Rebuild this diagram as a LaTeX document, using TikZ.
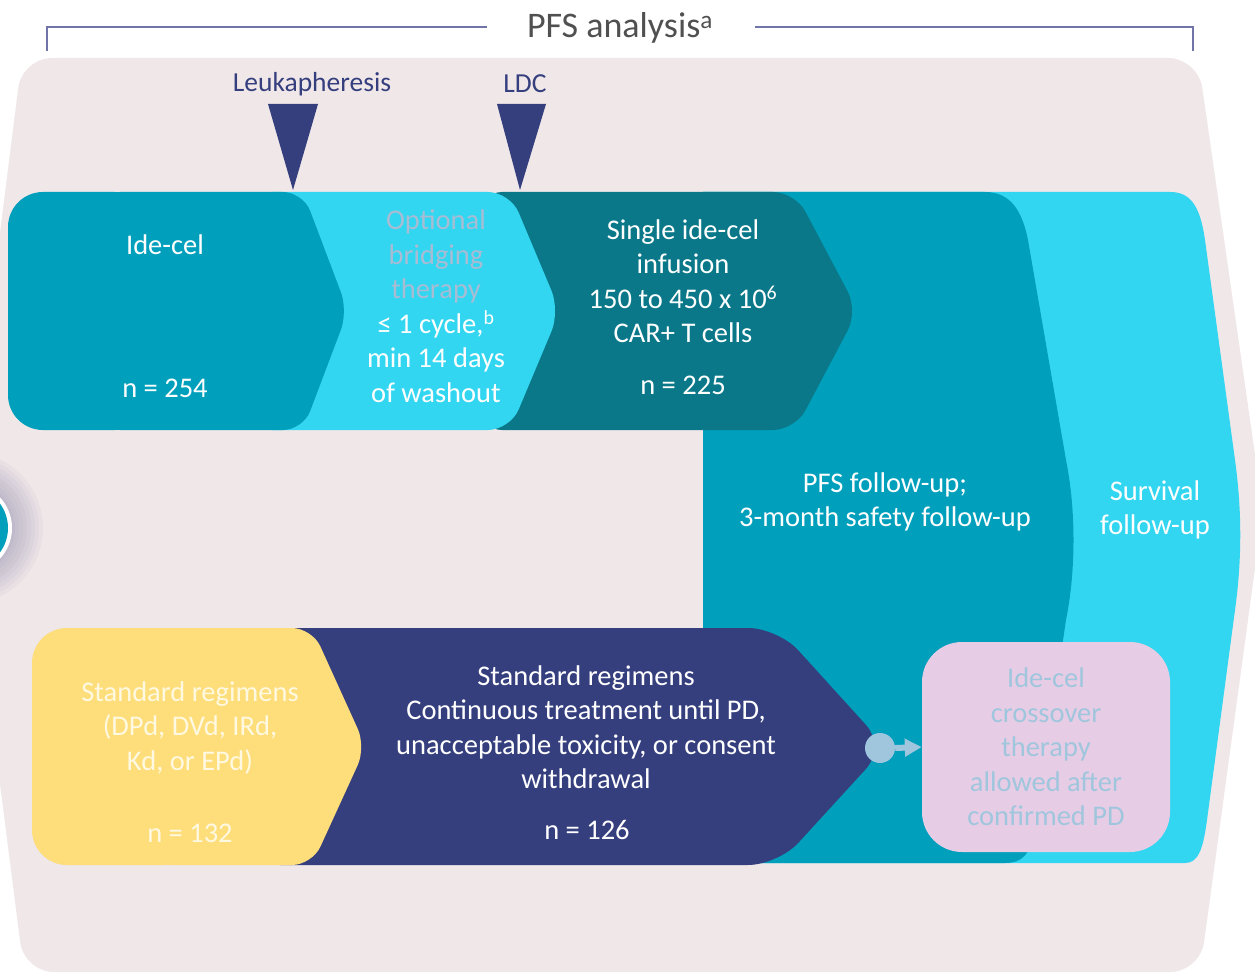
\documentclass[tikz,border=0pt]{standalone}
\usepackage{fontspec}
\setmainfont{Carlito}
\usetikzlibrary{arrows.meta}
\definecolor{bgpink}{RGB}{240,231,233}
\definecolor{teal1}{RGB}{0,159,188}
\definecolor{cyan1}{RGB}{51,214,240}
\definecolor{dteal}{RGB}{10,120,137}
\definecolor{navy}{RGB}{53,63,126}
\definecolor{yel}{RGB}{254,221,123}
\definecolor{pinkbox}{RGB}{230,205,229}
\definecolor{ltblue}{RGB}{160,198,221}
\definecolor{greytxt}{RGB}{168,188,212}
\definecolor{cream}{RGB}{255,249,225}
\definecolor{titlegrey}{RGB}{80,80,80}
\definecolor{brack}{RGB}{112,116,166}
\definecolor{glow}{RGB}{120,115,160}
\begin{document}
\begin{tikzpicture}[x=1pt,y=-1pt,
  body/.style={font=\fontsize{28.5}{34.5}\selectfont, align=center, text=white, inner sep=0pt},
  toplabel/.style={font=\fontsize{27.5}{30}\selectfont, text=navy, inner sep=0pt},
  bracketline/.style={brack, line width=1.5pt}]
\useasboundingbox (0,0) rectangle (1255,973);
\begin{scope}
\clip (0,0) rectangle (1255,973);
% background
\fill[bgpink, rounded corners=30] (-35,510) -- (22,58) -- (1198,58) -- (1263,510) -- (1200,972) -- (24,972) -- cycle;
% left circle with glow
\foreach \r in {76,72,...,48} \fill[glow, opacity=0.055] (-33,528) circle (\r);
\fill[white] (-33,528) circle (45);
\fill[teal1] (-33,528) circle (41);
% survival follow-up
\fill[cyan1] (703,192) -- (1170,192) .. controls (1190,192) and (1200,205) .. (1205,240) -- (1235,460) .. controls (1242,510) and (1242,560) .. (1235,610) -- (1207,820) .. controls (1203,850) and (1198,863) .. (1185,863) -- (703,863) -- cycle;
% PFS follow-up
\fill[teal1] (703,192) -- (985,192) .. controls (1010,192) and (1022,210) .. (1028,240) -- (1066,460) .. controls (1076,510) and (1076,570) .. (1066,620) -- (1035,830) .. controls (1030,855) and (1022,863) .. (1005,863) -- (703,863) -- cycle;
% infusion
\fill[dteal, rounded corners=22] (480,192) -- (795,192) -- (858,311) -- (795,430) -- (480,430) -- cycle;
% bridging
\fill[cyan1, rounded corners=22] (250,192) -- (510,192) -- (560,311) -- (510,430) -- (250,430) -- cycle;
% ide-cel
\fill[teal1, rounded corners=35] (8,192) rectangle (150,430);
\fill[teal1, rounded corners=20] (100,192) -- (303,192) -- (348,311) -- (303,430) -- (100,430) -- cycle;
% navy standard regimens
\fill[navy, rounded corners=30] (250,628) -- (778,628) -- (886,747) -- (778,865) -- (250,865) -- cycle;
% yellow
\fill[yel, rounded corners=35] (32,628) rectangle (200,865);
\fill[yel, rounded corners=20] (150,628) -- (312,628) -- (366,747) -- (312,865) -- (150,865) -- cycle;
\end{scope}
% markers
\fill[navy] (268,104) -- (318,104) -- (293,190) -- cycle;
\fill[navy] (497,104) -- (546,104) -- (520,190) -- cycle;
\node[toplabel] (leuk) at (312,84) {Leukapheresis};
\node[toplabel] (ldc) at (525,84) {LDC};
% title and bracket
\node[font=\fontsize{36}{40}\selectfont, text=titlegrey, inner sep=0pt] (title) at (620,28) {PFS analysis\textsuperscript{a}};
\draw[bracketline] (47,51) -- (47,27) -- (487,27);
\draw[bracketline] (755,27) -- (1193,27) -- (1193,51);
% texts
\node[body] (idecel) at (165,245) {Ide-cel};
\node[body] (n254) at (165,388) {n = 254};
\node[body] (bridge) at (436,306) {\textcolor{greytxt}{Optional}\\\textcolor{greytxt}{bridging}\\\textcolor{greytxt}{therapy}\\≤ 1 cycle,\textsuperscript{b}\\min 14 days\\of washout};
\node[body] (infuse) at (683,281) {Single ide-cel\\infusion\\150 to 450 x 10\textsuperscript{6}\\CAR+ T cells};
\node[body] (n225) at (683,385) {n = 225};
\node[body] (pfs) at (885,502) {PFS follow-up;\\3-month safety follow-up};
\node[body] (surv) at (1155,510) {Survival\\follow-up};
\node[body, text=cream] (stdA) at (190,728) {Standard regimens\\(DPd, DVd, IRd,\\Kd, or EPd)};
\node[body, text=cream] (n132) at (190,833) {n = 132};
\node[body] (stdB) at (586,727) {Standard regimens\\Continuous treatment until PD,\\unacceptable toxicity, or consent\\withdrawal};
\node[body] (n126) at (587,830) {n = 126};
\node[body, text=ltblue, fill=pinkbox, rounded corners=40, minimum width=248pt, minimum height=210pt] (cross) at (1046,747) {Ide-cel\\crossover\\therapy\\allowed after\\confirmed PD};
\node[circle, fill=ltblue, minimum size=30pt, inner sep=0pt] (dot) at (880,748) {};
\draw[ltblue, line width=6pt, -{Triangle[length=17pt, width=17pt]}] (dot.east) -- (cross.west);
\end{tikzpicture}
\end{document}
